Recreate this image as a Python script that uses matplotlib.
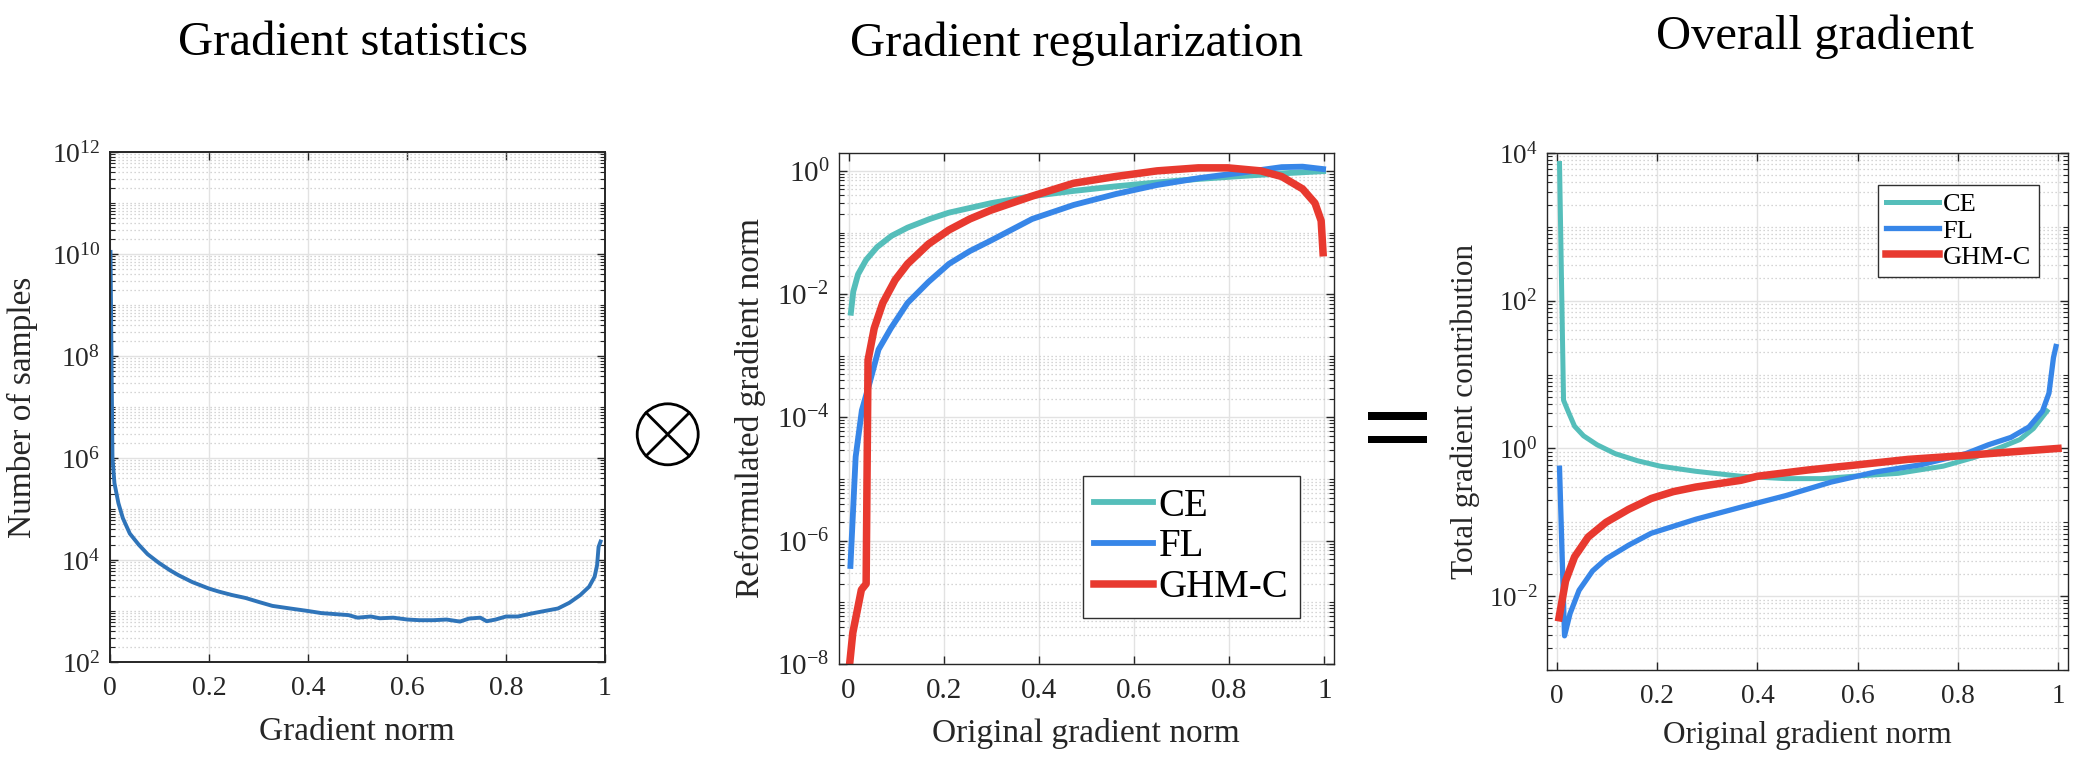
import numpy as np
import matplotlib
matplotlib.use('Agg')
import matplotlib.pyplot as plt
from matplotlib.ticker import FixedLocator, FuncFormatter, NullFormatter
from matplotlib.patches import Circle, Rectangle

plt.rcParams['font.family'] = ['Liberation Serif', 'DejaVu Serif']
plt.rcParams['mathtext.fontset'] = 'custom'
plt.rcParams['mathtext.rm'] = 'Liberation Serif'
plt.rcParams['mathtext.it'] = 'Liberation Serif:italic'
plt.rcParams['mathtext.bf'] = 'Liberation Serif:bold'

# ---------------- data ----------------
# Panel 1: gradient statistics
stat_x = [0.001, 0.005, 0.009, 0.017, 0.026, 0.040, 0.058, 0.076, 0.098, 0.121,
          0.139, 0.166, 0.200, 0.220, 0.247, 0.274, 0.301, 0.328, 0.364, 0.400,
          0.427, 0.454, 0.482, 0.500, 0.527, 0.545, 0.572, 0.601, 0.626, 0.653,
          0.680, 0.707, 0.725, 0.748, 0.761, 0.779, 0.800, 0.824, 0.851, 0.878,
          0.905, 0.928, 0.950, 0.968, 0.979, 0.984, 0.987, 0.991]
stat_n = [1.1e10, 1.0e6, 3.2e5, 1.3e5, 6.6e4, 3.3e4, 2.0e4, 1.3e4, 8.9e3, 6.3e3,
          5.0e3, 3.7e3, 2.75e3, 2.4e3, 2.05e3, 1.8e3, 1.5e3, 1.26e3, 1.12e3, 1.0e3,
          910, 870, 830, 740, 780, 720, 740, 680, 660, 660,
          680, 620, 710, 740, 630, 680, 780, 780, 890, 1.0e3,
          1.12e3, 1.45e3, 2.05e3, 3.0e3, 4.7e3, 7.9e3, 1.8e4, 2.3e4]

# Panel 2: gradient regularization
reg_ce_x = [0.005, 0.01, 0.02, 0.037, 0.06, 0.09, 0.124, 0.17, 0.211, 0.3,
            0.386, 0.47, 0.56, 0.65, 0.735, 0.82, 0.91, 0.997]
reg_ce_y = [0.005, 0.011, 0.021, 0.036, 0.058, 0.088, 0.12, 0.165, 0.21, 0.30,
            0.39, 0.47, 0.56, 0.65, 0.74, 0.82, 0.91, 0.99]
reg_fl_x = [0.004, 0.015, 0.028, 0.045, 0.063, 0.089, 0.124, 0.168, 0.211, 0.255,
            0.299, 0.386, 0.473, 0.561, 0.648, 0.735, 0.823, 0.910, 0.954, 0.997]
reg_fl_y = [3.9e-7, 2.3e-5, 1.3e-4, 3.8e-4, 1.26e-3, 2.8e-3, 7.2e-3, 0.0158, 0.031, 0.05,
            0.074, 0.166, 0.28, 0.42, 0.59, 0.76, 0.93, 1.15, 1.17, 1.07]
reg_ghm_x = [0.001, 0.009, 0.027, 0.037, 0.041, 0.054, 0.072, 0.098, 0.124, 0.168,
             0.211, 0.255, 0.299, 0.386, 0.473, 0.561, 0.648, 0.735, 0.797, 0.866,
             0.910, 0.954, 0.980, 0.993, 0.997]
reg_ghm_y = [7.9e-9, 3.2e-8, 1.6e-7, 2.0e-7, 8.5e-4, 2.8e-3, 7.2e-3, 0.017, 0.031, 0.065,
             0.11, 0.166, 0.23, 0.39, 0.63, 0.81, 1.0, 1.12, 1.12, 1.0,
             0.81, 0.51, 0.30, 0.155, 0.047]

# Panel 3: overall gradient
tot_ce_x = [0.005, 0.013, 0.022, 0.035, 0.053, 0.080, 0.116, 0.161, 0.206, 0.277,
            0.367, 0.457, 0.529, 0.592, 0.681, 0.771, 0.834, 0.888, 0.924, 0.951, 0.978]
tot_ce_y = [7200, 4.5, 3.2, 2.0, 1.48, 1.12, 0.85, 0.68, 0.575, 0.49,
            0.42, 0.39, 0.39, 0.42, 0.46, 0.575, 0.76, 1.05, 1.32, 1.86, 3.2]
tot_fl_x = [0.005, 0.015, 0.026, 0.044, 0.071, 0.098, 0.143, 0.188, 0.277, 0.367,
            0.457, 0.547, 0.636, 0.726, 0.816, 0.861, 0.906, 0.942, 0.969, 0.982,
            0.991, 0.996]
tot_fl_y = [0.54, 0.0029, 0.0058, 0.012, 0.022, 0.032, 0.049, 0.071, 0.11, 0.16,
            0.23, 0.35, 0.48, 0.60, 0.85, 1.12, 1.41, 1.95, 3.2, 5.6,
            17, 24]
tot_ghm_x = [0.004, 0.017, 0.035, 0.062, 0.098, 0.143, 0.188, 0.232, 0.277, 0.367,
             0.4, 0.5, 0.6, 0.7, 0.8, 0.9, 1.0]
tot_ghm_y = [0.0051, 0.016, 0.034, 0.063, 0.1, 0.15, 0.21, 0.26, 0.30, 0.37,
             0.42, 0.51, 0.60, 0.71, 0.79, 0.89, 1.0]

x_ticks = [0, 0.2, 0.4, 0.6, 0.8, 1.0]
series_labels = ['CE', 'FL', 'GHM-C']
titles = ['Gradient statistics', 'Gradient regularization', 'Overall gradient']
xlabels = ['Gradient norm', 'Original gradient norm', 'Original gradient norm']
ylabels = ['Number of samples', 'Reformulated gradient norm', 'Total gradient contribution']

C_STAT = '#2F74B9'
C_CE = '#55BEBA'
C_FL = '#3786E8'
C_GHM = '#E8392F'

# ---------------- layout ----------------
W, H = 2086, 772
fig = plt.figure(figsize=(W / 100, H / 100), dpi=100)


def rect(l, t, r, b):
    return [l / W, 1 - b / H, (r - l) / W, (b - t) / H]


def style(ax, xlim, ylim, major_exp, tick_fs, spine_lw):
    ax.set_yscale('log')
    ax.set_xlim(*xlim)
    ax.set_ylim(*ylim)
    ax.set_xticks(x_ticks)
    ax.xaxis.set_major_formatter(FuncFormatter(lambda v, p: f'{v:g}'))
    majors = [10.0 ** e for e in major_exp]
    ax.yaxis.set_major_locator(FixedLocator(majors))
    ax.yaxis.set_major_formatter(FuncFormatter(
        lambda v, p: r'$\mathregular{10^{%d}}$' % int(round(np.log10(v)))))
    lo = int(np.floor(np.log10(ylim[0])))
    hi = int(np.ceil(np.log10(ylim[1])))
    minors = []
    for n in range(lo, hi + 1):
        for k in range(1, 10):
            v = k * 10.0 ** n
            if ylim[0] * 0.999 <= v <= ylim[1] * 1.001 and not any(np.isclose(v, m) for m in majors):
                minors.append(v)
    ax.yaxis.set_minor_locator(FixedLocator(minors))
    ax.yaxis.set_minor_formatter(NullFormatter())
    ax.grid(True, which='major', color='#e2e2e2', lw=1.0, ls='-')
    ax.grid(True, which='minor', axis='y', color='#c8c8c8', lw=0.9, ls=(0, (1, 2.2)))
    ax.set_axisbelow(True)
    ax.tick_params(which='both', direction='in', top=True, right=True,
                   labelsize=tick_fs, color='#262626', labelcolor='#262626')
    ax.tick_params(which='major', length=6, width=1)
    ax.tick_params(which='minor', length=3.5, width=0.8)
    ax.tick_params(axis='x', which='both', pad=10)
    ax.tick_params(axis='y', which='both', pad=7)
    for s in ax.spines.values():
        s.set_linewidth(spine_lw)
        s.set_color('#262626')


# Panel 1
ax1 = fig.add_axes(rect(110, 152, 605, 662))
ax1.plot(stat_x, stat_n, color=C_STAT, lw=2.8, solid_joinstyle='round')
style(ax1, (0, 1), (1e2, 1e12), [2, 4, 6, 8, 10, 12], 20, 1.4)

# Panel 2
ax2 = fig.add_axes(rect(839, 153, 1334, 664))
ax2.plot(reg_ce_x, reg_ce_y, color=C_CE, lw=4.2, label=series_labels[0], solid_joinstyle='round')
ax2.plot(reg_fl_x, reg_fl_y, color=C_FL, lw=4.2, label=series_labels[1], solid_joinstyle='round')
ax2.plot(reg_ghm_x, reg_ghm_y, color=C_GHM, lw=5.4, label=series_labels[2], solid_joinstyle='round')
style(ax2, (-0.02, 1.02), (1e-8, 10 ** 0.29), [-8, -6, -4, -2, 0], 21, 1.0)
leg2 = ax2.legend(loc='lower right', bbox_to_anchor=(0.931, 0.09), borderaxespad=0,
                  fontsize=28, handlelength=1.5, handletextpad=0.15, labelspacing=0.1,
                  borderpad=0.3, fancybox=False, framealpha=1, edgecolor='#303030')
leg2.get_frame().set_linewidth(1.0)

# Panel 3
ax3 = fig.add_axes(rect(1547, 153, 2068, 670))
ax3.plot(tot_ce_x, tot_ce_y, color=C_CE, lw=3.6, label=series_labels[0], solid_joinstyle='round')
ax3.plot(tot_fl_x, tot_fl_y, color=C_FL, lw=3.8, label=series_labels[1], solid_joinstyle='round')
ax3.plot(tot_ghm_x, tot_ghm_y, color=C_GHM, lw=5.4, label=series_labels[2], solid_joinstyle='round')
style(ax3, (-0.02, 1.02), (1e-3, 1e4), [-2, 0, 2, 4], 19.5, 1.0)
leg3 = ax3.legend(loc='upper right', bbox_to_anchor=(0.944, 0.938), borderaxespad=0,
                  fontsize=19, handlelength=2.0, handletextpad=0.15, labelspacing=0.1,
                  borderpad=0.3, fancybox=False, framealpha=1, edgecolor='#303030')
leg3.get_frame().set_linewidth(1.0)

# overlay in pixel coordinates
ov = fig.add_axes([0, 0, 1, 1])
ov.set_xlim(0, W)
ov.set_ylim(H, 0)
ov.axis('off')

for cx, by, t in zip([353, 1077, 1815], [55, 56, 49], titles):
    ov.text(cx, by, t, fontsize=35, ha='center', va='baseline', color='black')

for cx, by, t, fs in zip([357, 1086, 1807], [740, 742, 743], xlabels, [24, 24, 22.5]):
    ov.text(cx, by, t, fontsize=fs, ha='center', va='baseline', color='#262626')

for cx, cy, t, fs in zip([22, 750, 1465], [407, 408, 411], ylabels, [24, 24, 22.5]):
    ov.text(cx, cy, t, fontsize=fs, ha='center', va='center', rotation=90, color='#262626')

# "otimes" symbol
ccx, ccy, r = 667.7, 434.3, 30.5
ov.add_patch(Circle((ccx, ccy), r, fill=False, lw=2.0, color='black'))
d = r * np.cos(np.pi / 4)
ov.plot([ccx - d, ccx + d], [ccy - d, ccy + d], color='black', lw=2.0)
ov.plot([ccx - d, ccx + d], [ccy + d, ccy - d], color='black', lw=2.0)

# "=" symbol
ov.add_patch(Rectangle((1368, 412.3), 59, 7.7, color='black', lw=0))
ov.add_patch(Rectangle((1368, 435.7), 59, 7.7, color='black', lw=0))

fig.savefig('out.png', dpi=100)
